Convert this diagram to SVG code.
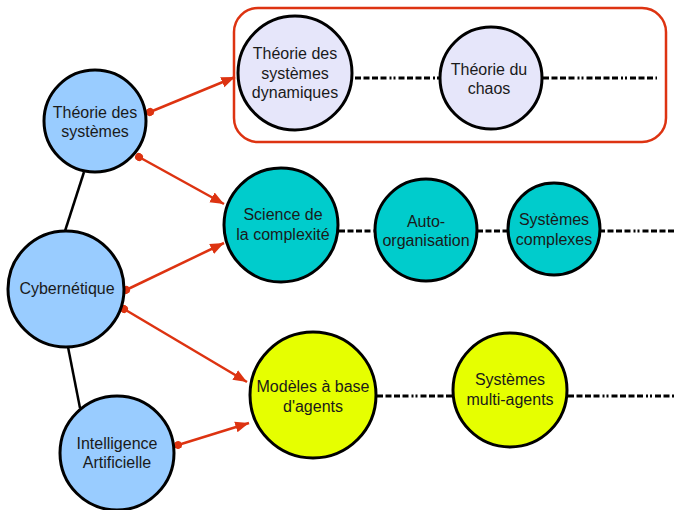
<svg xmlns="http://www.w3.org/2000/svg" width="674" height="510" viewBox="0 0 674 510">
<style>
.n{stroke:#000;stroke-width:3}
.blue{fill:#99ccff}
.lav{fill:#e6e6fa}
.teal{fill:#00cccc}
.yel{fill:#e6ff00}
text{font-family:"Liberation Sans",Arial,sans-serif;font-size:16px;fill:#1a1a1a;text-anchor:middle}
.red{stroke:#dd3311;stroke-width:2.5;fill:none;marker-end:url(#ah);marker-start:url(#dot)}
.blk{stroke:#000;stroke-width:2.5}
.dd{stroke:#000;stroke-width:2.8;fill:none;stroke-dasharray:6 2.5 6 2.5 6 2.5 6 3 2 2 2 3}
</style>
<defs>
<marker id="ah" viewBox="0 0 10 10" refX="10" refY="5" markerWidth="5.5" markerHeight="5.5" orient="auto" markerUnits="strokeWidth"><path d="M0,1 L10,5 L0,9 Z" fill="#dd3311"/></marker>
<marker id="dot" viewBox="0 0 10 10" refX="5" refY="5" markerWidth="3.2" markerHeight="3.2" orient="auto" markerUnits="strokeWidth"><circle cx="5" cy="5" r="5" fill="#dd3311"/></marker>
</defs>
<rect x="234" y="8" width="432" height="134" rx="24" fill="none" stroke="#dd3311" stroke-width="2.5"/>
<g id="connectors">
<line class="blk" x1="84" y1="172" x2="65" y2="231"/>
<line class="blk" x1="68" y1="347" x2="80" y2="408"/>
<line class="dd" x1="355" y1="78" x2="440" y2="78"/>
<line class="dd" x1="543" y1="78" x2="657" y2="78"/>
<line class="dd" x1="339" y1="231" x2="375" y2="231"/>
<line class="dd" x1="477" y1="231" x2="509" y2="231"/>
<line class="dd" x1="599" y1="231" x2="674" y2="231"/>
<line class="dd" x1="377" y1="396" x2="453" y2="396"/>
<line class="dd" x1="568" y1="396" x2="674" y2="396"/>
<path class="red" d="M150,112 L235,77"/>
<path class="red" d="M139,157 L224,204"/>
<path class="red" d="M126,290 L224,243"/>
<path class="red" d="M124,309 L247,382"/>
<path class="red" d="M178,445 L249,423"/>
</g>
<g id="theorie-systemes"><circle class="n blue" cx="95" cy="121" r="51"/><text x="95" y="118">Théorie des</text><text x="95" y="137">systèmes</text></g>
<g id="cybernetique"><circle class="n blue" cx="66" cy="289" r="58"/><text x="67" y="294">Cybernétique</text></g>
<g id="ia"><circle class="n blue" cx="117" cy="453" r="57"/><text x="117" y="449">Intelligence</text><text x="117" y="468">Artificielle</text></g>
<g id="systemes-dynamiques"><circle class="n lav" cx="295" cy="73" r="57"/><text x="295" y="59">Théorie des</text><text x="295" y="79">systèmes</text><text x="295" y="98">dynamiques</text></g>
<g id="chaos"><circle class="n lav" cx="491" cy="78" r="51"/><text x="489" y="75">Théorie du</text><text x="489" y="94">chaos</text></g>
<g id="complexite"><circle class="n teal" cx="281" cy="225" r="57"/><text x="283" y="220">Science de</text><text x="283" y="240">la complexité</text></g>
<g id="auto-organisation"><circle class="n teal" cx="426" cy="230" r="51"/><text x="426" y="227">Auto-</text><text x="426" y="246">organisation</text></g>
<g id="systemes-complexes"><circle class="n teal" cx="554" cy="229" r="46"/><text x="554" y="225">Systèmes</text><text x="554" y="245">complexes</text></g>
<g id="modeles-agents"><circle class="n yel" cx="313" cy="395" r="63"/><text x="313" y="392">Modèles à base</text><text x="313" y="412">d'agents</text></g>
<g id="multi-agents"><circle class="n yel" cx="510" cy="390" r="57"/><text x="510" y="385">Systèmes</text><text x="510" y="405">multi-agents</text></g>
</svg>
